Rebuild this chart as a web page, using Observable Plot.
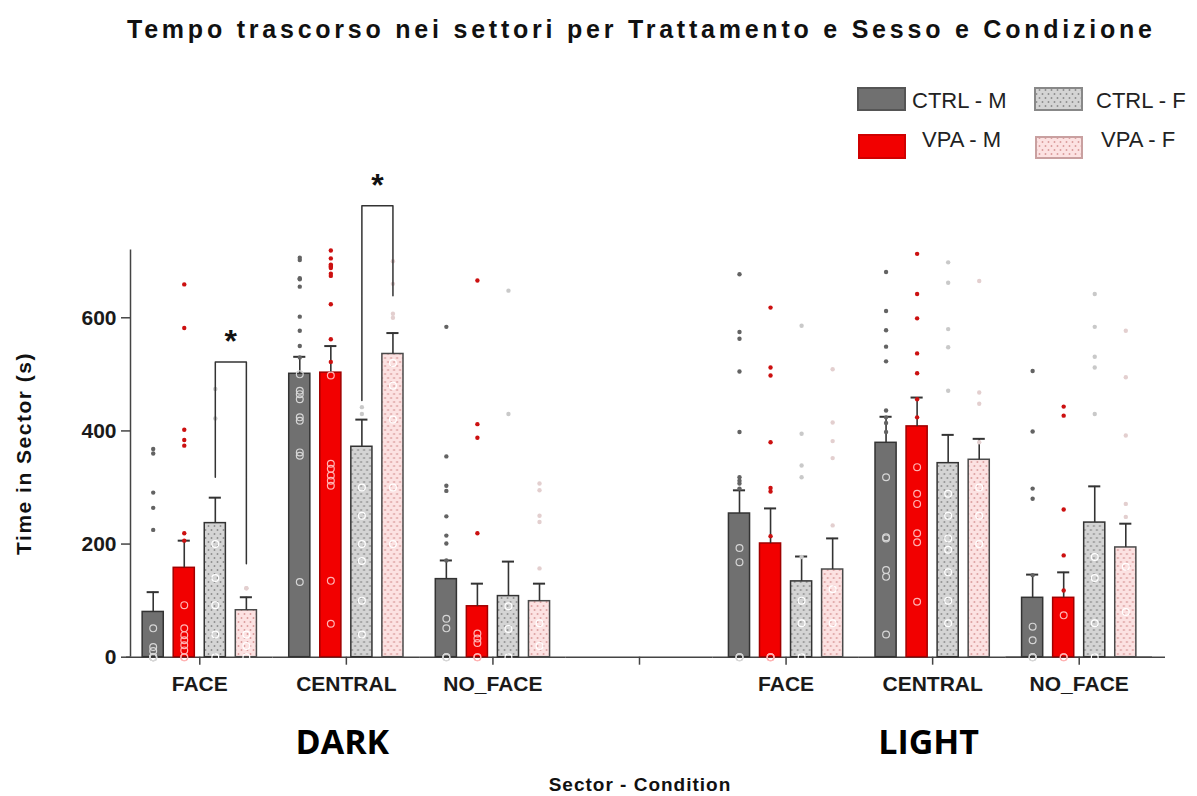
<!DOCTYPE html>
<html>
<head>
<meta charset="utf-8">
<script src="https://cdn.jsdelivr.net/npm/d3@7"></script>
<script src="https://cdn.jsdelivr.net/npm/@observablehq/plot@0.6"></script>
<style>
  html, body { margin: 0; padding: 0; background: #fff; }
  #wrap { position: relative; width: 1197px; height: 796px; overflow: hidden; }
  #wrap > svg { position: absolute; left: 0; top: 0; }
  #overlay { pointer-events: none; }
</style>
</head>
<body>
<div id="wrap">
  <svg id="overlay" width="1197" height="796">
    <defs>
      <pattern id="dotsGrey" width="6" height="8" patternUnits="userSpaceOnUse">
        <rect width="6" height="8" fill="#d4d4d4"></rect>
        <circle cx="1.5" cy="2" r="0.95" fill="#8c8c8c"></circle>
        <circle cx="4.5" cy="6" r="0.95" fill="#8c8c8c"></circle>
      </pattern>
      <pattern id="dotsPink" width="6" height="8" patternUnits="userSpaceOnUse">
        <rect width="6" height="8" fill="#fce2e2"></rect>
        <circle cx="1.5" cy="2" r="0.95" fill="#d99a9a"></circle>
        <circle cx="4.5" cy="6" r="0.95" fill="#d99a9a"></circle>
      </pattern>
    </defs>
  </svg>
</div>
<script>
// Groups along the x axis (sector within light condition); one empty slot separates DARK and LIGHT
const groupKeys = ["DARK FACE", "DARK CENTRAL", "DARK NO_FACE", "GAP", "LIGHT FACE", "LIGHT CENTRAL", "LIGHT NO_FACE"];
const groupLabels = ["FACE", "CENTRAL", "NO_FACE", "", "FACE", "CENTRAL", "NO_FACE"];
const dataGroups = ["DARK FACE", "DARK CENTRAL", "DARK NO_FACE", "LIGHT FACE", "LIGHT CENTRAL", "LIGHT NO_FACE"];
const seriesNames = ["CTRL - M", "VPA - M", "CTRL - F", "VPA - F"];

// Mean time in sector (s), in the order of dataGroups
const meanCtrlM = [80, 501, 138, 254, 379, 105];
const meanVpaM  = [158, 503, 90, 201, 408, 105];
const meanCtrlF = [237, 372, 108, 134, 343, 238];
const meanVpaF  = [83, 536, 99, 155, 349, 194];

// Standard error of the mean
const semCtrlM = [35, 30, 33, 41, 46, 41];
const semVpaM  = [48, 47, 40, 62, 51, 45];
const semCtrlF = [45, 48, 61, 44, 50, 64];
const semVpaF  = [23, 37, 31, 55, 37, 42];

// Individual animals
const ptsCtrlM = [
  [368, 360, 291, 264, 225, 51, 18, 11, 0, 0, 0, 0, 0, 0],
  [706, 702, 670, 668, 655, 602, 577, 550, 530, 500, 471, 465, 456, 424, 418, 362, 356, 133],
  [584, 355, 303, 294, 249, 215, 201, 171, 68, 51, 0, 0, 0],
  [677, 575, 563, 505, 398, 318, 312, 307, 298, 193, 168, 0, 0, 0],
  [681, 612, 578, 549, 523, 436, 424, 414, 398, 318, 212, 210, 154, 142, 40],
  [506, 399, 298, 280, 145, 54, 30, 0, 0, 0]
];
const ptsVpaM = [
  [659, 582, 402, 384, 374, 219, 206, 92, 51, 39, 30, 21, 12, 0, 0],
  [719, 705, 694, 692, 690, 688, 678, 674, 624, 562, 522, 498, 342, 333, 321, 312, 303, 135, 59],
  [666, 412, 388, 219, 42, 33, 25, 0, 0],
  [618, 512, 498, 380, 299, 293, 214, 0, 0, 0],
  [713, 642, 599, 537, 502, 456, 424, 336, 289, 271, 219, 203, 98],
  [443, 427, 261, 180, 118, 74, 0, 0]
];
const ptsCtrlF = [
  [474, 422, 200, 140, 92, 40, 0],
  [442, 430, 300, 250, 200, 170, 100, 40],
  [648, 430, 90, 50, 0],
  [586, 395, 339, 318, 177, 100, 60, 0],
  [698, 662, 580, 548, 471, 289, 250, 210, 190, 150, 100, 60],
  [642, 584, 531, 512, 430, 177, 140, 60, 0]
];
const ptsVpaF = [
  [122, 122, 40, 20, 0],
  [700, 660, 607, 600, 520, 480, 420, 300, 200],
  [307, 295, 250, 239, 157, 60, 20],
  [509, 415, 382, 352, 233, 120, 60],
  [665, 468, 448, 380, 300, 250, 200],
  [577, 495, 392, 271, 248, 160, 80]
];

// Significance brackets between CTRL - F and VPA - F
const sigGroups = ["DARK FACE", "DARK CENTRAL"];
const sigTop = [522, 798];
const sigLeftEnd = [318, 454];
const sigRightEnd = [165, 639];
const sigLabels = ["*", "*"];

const yTicks = [0, 200, 400, 600];
const yMax = 720;
const conditionNames = ["DARK", "LIGHT"];
const conditionGroups = ["DARK CENTRAL", "LIGHT CENTRAL"];

// Styling per series
const barFill = ["#707070", "#f20000", "url(#dotsGrey)", "url(#dotsPink)"];
const barStroke = ["#333333", "#a00000", "#333333", "#4a4a4a"];
const dotFill = ["#636363", "#cc1010", "#c9c9c9", "#e3cfcf"];
const ringStroke = ["#d6d6d6", "#ffb3b3", "#ffffff", "#ffffff"];

const means = [meanCtrlM, meanVpaM, meanCtrlF, meanVpaF];
const sems = [semCtrlM, semVpaM, semCtrlF, semVpaF];
const pts = [ptsCtrlM, ptsVpaM, ptsCtrlF, ptsVpaF];

const bars = seriesNames.flatMap((s, i) => dataGroups.map((g, j) => ({series: s, group: g, mean: means[i][j], sem: sems[i][j]})));
const points = seriesNames.flatMap((s, i) => dataGroups.flatMap((g, j) =>
  pts[i][j].map(v => ({series: s, group: g, value: v, inside: v < means[i][j]}))));
const brackets = sigGroups.flatMap((g, k) => [
  {id: k, group: g, series: "CTRL - F", value: sigLeftEnd[k]},
  {id: k, group: g, series: "CTRL - F", value: sigTop[k]},
  {id: k, group: g, series: "VPA - F", value: sigTop[k]},
  {id: k, group: g, series: "VPA - F", value: sigRightEnd[k]}
]);
const stars = sigGroups.map((g, k) => ({group: g, top: sigTop[k], label: sigLabels[k]}));
const conditions = conditionNames.map((c, k) => ({group: conditionGroups[k], label: c}));

const chart = Plot.plot({
  width: 1197,
  height: 796,
  marginLeft: 126,
  marginRight: 45,
  marginTop: 249.4,
  marginBottom: 139.3,
  style: {fontFamily: "'Liberation Sans', Arial, sans-serif", background: "transparent", overflow: "visible"},
  fx: {domain: groupKeys, padding: 0, round: false},
  x: {domain: seriesNames, paddingInner: 0.32, paddingOuter: 0.52, round: false, axis: null},
  y: {domain: [0, yMax]},
  marks: [
    // baseline across every slot, including the empty one; the last slot runs a little further
    Plot.ruleY(groupKeys, {fx: d => d, y: () => 0, stroke: "#444", strokeWidth: 1.5}),
    Plot.ruleY(groupKeys.slice(-1), {fx: d => d, y: () => 0, insetRight: -13, stroke: "#444", strokeWidth: 1.5}),
    ...seriesNames.map((s, i) => Plot.barY(bars.filter(d => d.series === s), {
      fx: "group", x: "series", y: "mean", fill: barFill[i], stroke: barStroke[i], strokeWidth: 1.5
    })),
    Plot.ruleX(bars, {fx: "group", x: "series", y1: "mean", y2: d => d.mean + d.sem, stroke: "#333", strokeWidth: 1.6}),
    Plot.tickY(bars, {fx: "group", x: "series", y: d => d.mean + d.sem, stroke: "#333", strokeWidth: 2, insetLeft: 4.5, insetRight: 4.5}),
    ...seriesNames.map((s, i) => Plot.dot(points.filter(d => d.series === s && d.inside), {
      fx: "group", x: "series", y: "value", r: 3.4, fill: "none", stroke: ringStroke[i], strokeWidth: 1.2
    })),
    ...seriesNames.map((s, i) => Plot.dot(points.filter(d => d.series === s && !d.inside), {
      fx: "group", x: "series", y: "value", r: 2.2, fill: dotFill[i], stroke: "none"
    })),
    Plot.line(brackets, {fx: "group", x: "series", y: "value", z: "id", stroke: "#333", strokeWidth: 1.5}),
    Plot.text(stars, {fx: "group", x: () => "CTRL - F", y: "top", text: "label", dx: 15.5, dy: -20,
      fontSize: 32, fontWeight: "bold", lineAnchor: "middle", fill: "#111"}),
    Plot.ruleX(["axis"], {fx: () => groupKeys[0], x: () => seriesNames[0], y1: 0, y2: yMax, dx: -22.7, stroke: "#444", strokeWidth: 1.5}),
    Plot.axisY({ticks: yTicks, tickSize: 9, tickPadding: 5, fontSize: 21, fontWeight: "bold", color: "#1a1a1a", stroke: "#444", strokeWidth: 1.5, label: null, dx: 4}),
    Plot.axisFx({anchor: "bottom", tickSize: 8, tickPadding: 11, fontSize: 21, fontWeight: "bold", color: "#1a1a1a", stroke: "#444", strokeWidth: 1.5,
      label: null, tickFormat: k => groupLabels[groupKeys.indexOf(k)]}),
    Plot.text(conditions, {fx: "group", text: "label", frameAnchor: "bottom", dy: 86, dx: -4,
      fontSize: 34, fontWeight: "bold", fontFamily: "'Open Sans', sans-serif", lineAnchor: "middle", fill: "#000"})
  ]
});

const wrap = document.getElementById("wrap");
const overlayNode = document.getElementById("overlay");
wrap.insertBefore(chart, overlayNode);

// Title, axis labels and legend
const overlay = d3.select(overlayNode);
const font = "'Liberation Sans', Arial, sans-serif";

overlay.append("text")
  .attr("x", 127).attr("y", 38)
  .attr("textLength", 1025).attr("lengthAdjust", "spacing")
  .attr("font-family", font).attr("font-weight", "bold").attr("font-size", 25).attr("fill", "#111")
  .text("Tempo trascorso nei settori  per Trattamento e Sesso e Condizione");

overlay.append("text")
  .attr("transform", "translate(31,453.5) rotate(-90)")
  .attr("text-anchor", "middle")
  .attr("font-family", font).attr("font-weight", "bold").attr("font-size", 21)
  .attr("letter-spacing", 1.5).attr("fill", "#111")
  .text("Time in Sector (s)");

overlay.append("text")
  .attr("x", 640).attr("y", 791)
  .attr("text-anchor", "middle")
  .attr("font-family", font).attr("font-weight", "bold").attr("font-size", 19)
  .attr("letter-spacing", 1).attr("fill", "#111")
  .text("Sector - Condition");

// Legend: two columns (male / female), two rows (CTRL / VPA)
const legendOrder = ["CTRL - M", "CTRL - F", "VPA - M", "VPA - F"];
const swatchBox = [[858, 88, 47, 22], [1035, 88, 47, 22], [859, 135, 46, 23], [1036, 137, 46, 21]];
const labelPos = [[912, 108], [1096, 108], [922, 147], [1101, 147]];
const swatchStroke = ["#555", "#888", "#d00000", "#c9a0a0"];
legendOrder.forEach((name, k) => {
  const i = seriesNames.indexOf(name);
  const [x, y, w, h] = swatchBox[k];
  overlay.append("rect")
    .attr("x", x).attr("y", y).attr("width", w).attr("height", h)
    .attr("fill", barFill[i]).attr("stroke", swatchStroke[k]).attr("stroke-width", 2);
  overlay.append("text")
    .attr("x", labelPos[k][0]).attr("y", labelPos[k][1])
    .attr("font-family", font).attr("font-size", 22).attr("fill", "#222")
    .text(name);
});
</script>
</body>
</html>
